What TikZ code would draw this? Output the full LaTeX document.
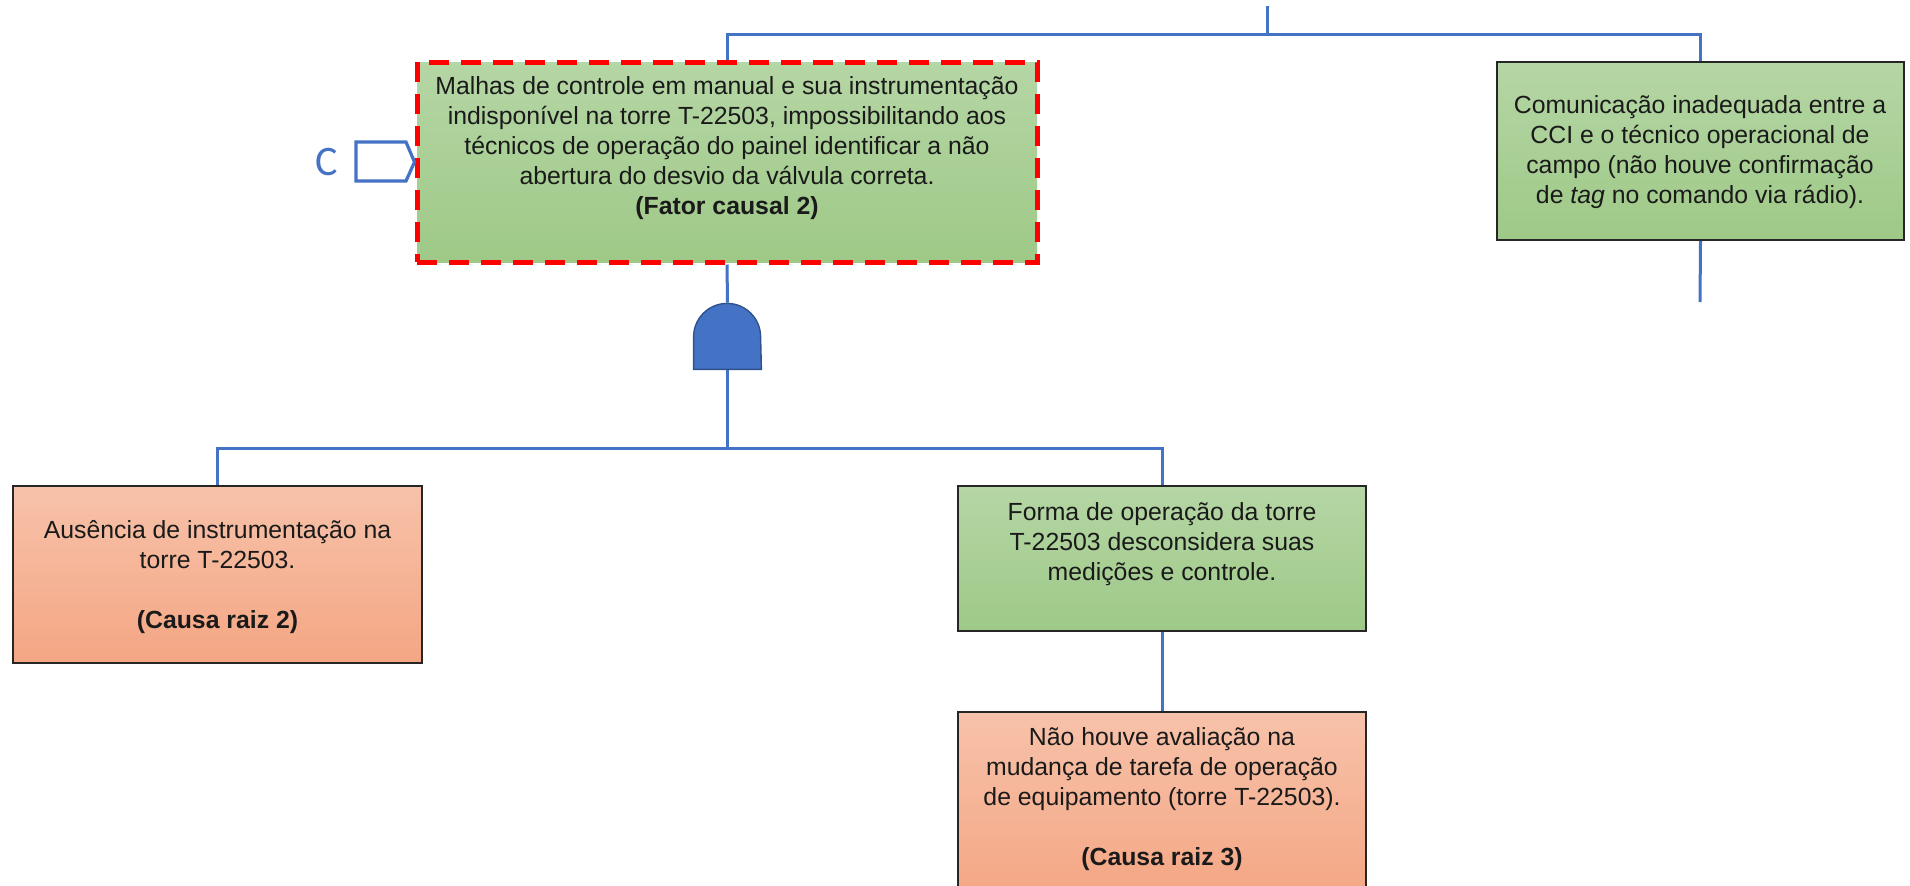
\documentclass[tikz,border=0pt]{standalone}
\usepackage{fontspec}
\setmainfont{Liberation Sans}
\newfontfamily\calibrifont{Carlito}
\usetikzlibrary{calc}
\definecolor{linkblue}{HTML}{4472C4}
\definecolor{gatedark}{HTML}{2F528F}
\definecolor{greenTop}{RGB}{181,214,165}
\definecolor{greenBot}{RGB}{158,201,135}
\definecolor{salmonTop}{RGB}{247,194,170}
\definecolor{salmonBot}{RGB}{244,166,131}
\definecolor{inkgray}{HTML}{1A1A1A}
\begin{document}
\begin{tikzpicture}[x=0.5pt,y=-0.5pt,
  conn/.style={draw=linkblue,line width=1.5pt},
  box/.style={rectangle,draw=black!85,line width=1pt,inner sep=0pt},
  greenbox/.style={box,top color=greenTop,bottom color=greenBot},
  salmonbox/.style={box,top color=salmonTop,bottom color=salmonBot},
  factorbox/.style={greenbox,draw=red,line width=2.5pt,dash pattern=on 10pt off 6pt},
  boxtext/.style={align=center,text=inkgray,font=\fontsize{12.4}{15}\selectfont,inner sep=0pt},
]
\useasboundingbox (0,0) rectangle (1910,885);
\fill[white] (0,0) rectangle (1910,885);

% anchor points of the bus lines
\coordinate (stub) at (1267,6);
\coordinate (busA) at (0,34);
\coordinate (busB) at (0,448);
\coordinate (rbend) at (1700,302);

% boxes (placed first so the connectors can refer to them)
\node[factorbox,minimum width=310pt,minimum height=100pt] (fc2) at (727,162) {};
\node[greenbox,minimum width=203.5pt,minimum height=89pt] (rb) at (1700.5,151) {};
\node[salmonbox,minimum width=204.5pt,minimum height=88.5pt] (lb) at (217.5,574.5) {};
\node[greenbox,minimum width=204pt,minimum height=72.5pt] (mb) at (1162,558.5) {};
\node[salmonbox,minimum width=204pt,minimum height=94pt] (bb) at (1162,806) {};

% AND gate
\node[minimum width=33.5pt,minimum height=33pt,inner sep=0pt] (g) at (727.5,336) {};

% connectors
\draw[conn] (stub) -- (stub |- busA);
\draw[conn] (fc2.north) -- (fc2.north |- busA) -- (rb.north |- busA) -- (rb.north);
\draw[conn] (rb.south) -- (rbend);
\draw[conn] (fc2.south) -- (g.north);
\draw[conn] (g.south) -- (g.south |- busB);
\draw[conn] (lb.north) -- (lb.north |- busB) -- (mb.north |- busB) -- (mb.north);
\draw[conn] (mb.south) -- (bb.north);

\filldraw[fill=linkblue,draw=gatedark,line width=0.7pt]
  (g.south west) -- ++(0pt,16.25pt) arc[start angle=180,end angle=0,radius=16.75pt]
  -- (g.south east) -- cycle;

% off-page reference marker
\draw[linkblue,line width=1.6pt,line join=miter]
  (356,142) -- (406,142) -- (fc2.west) -- (406,181) -- (356,181) -- cycle;
\node[text=linkblue,font=\calibrifont\fontsize{21}{24}\selectfont,inner sep=0pt] (clab) at (327,162) {C};

% box texts
\node[boxtext] (fc2t) at (727,148) {Malhas de controle em manual e sua instrumentação\\
  indisponível na torre T-22503, impossibilitando aos\\
  técnicos de operação do painel identificar a não\\
  abertura do desvio da válvula correta.\\
  \textbf{(Fator causal 2)}};
\node[boxtext] (rbt) at (1700,152) {Comunicação inadequada entre a\\
  CCI e o técnico operacional de\\
  campo (não houve confirmação\\
  de \textit{tag} no comando via rádio).};
\node[boxtext] (lbt) at (217.5,577) {Ausência de instrumentação na\\
  torre T-22503.\\[15pt]
  \textbf{(Causa raiz 2)}};
\node[boxtext] (mbt) at (1162,544) {Forma de operação da torre\\
  T-22503 desconsidera suas\\
  medições e controle.};
\node[boxtext] (bbt) at (1162,799) {Não houve avaliação na\\
  mudança de tarefa de operação\\
  de equipamento (torre T-22503).\\[15pt]
  \textbf{(Causa raiz 3)}};
\end{tikzpicture}
\end{document}
